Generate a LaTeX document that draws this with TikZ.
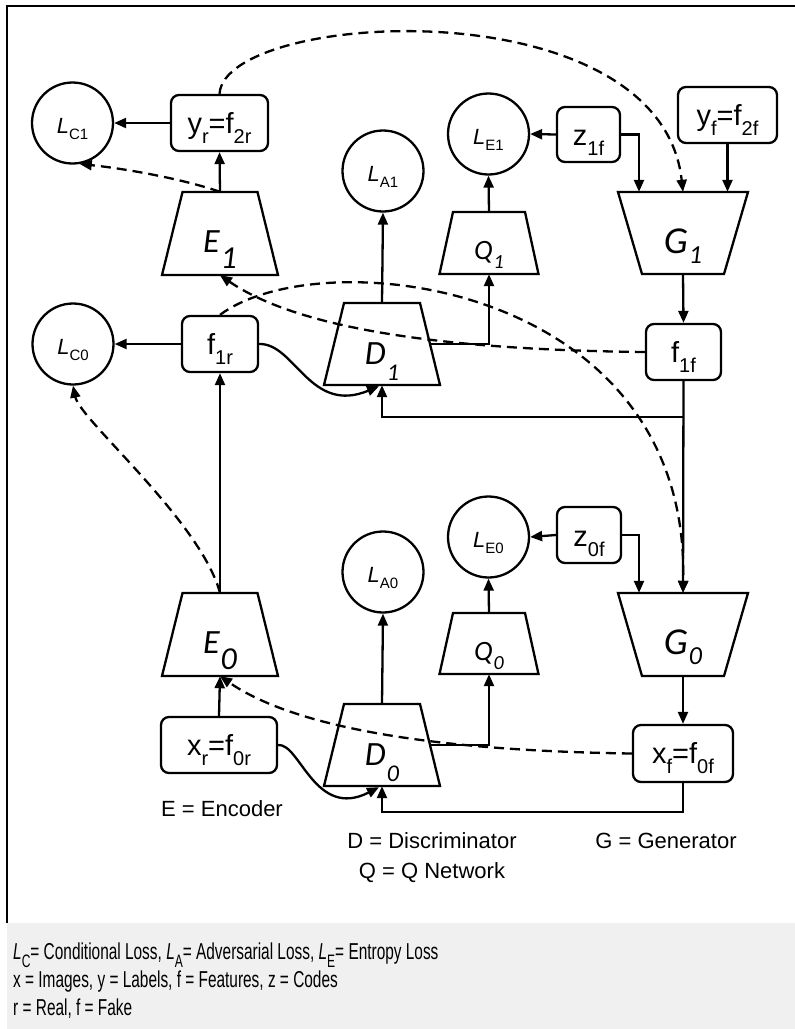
\documentclass[tikz,border=0pt]{standalone}
\usepackage{fontspec}
\setmainfont{Liberation Sans}
\newfontfamily\carl{Carlito}
\newfontfamily\narrowf[FakeStretch=0.67]{Liberation Sans}
\usetikzlibrary{arrows.meta,calc}
\definecolor{legbg}{RGB}{240,240,240}
\newcommand{\trap}[6]{%
  \draw[ln] (#2-#5,#3) -- (#2+#5,#3) -- (#2+#6,#4) -- (#2-#6,#4) -- cycle;
  \node[anch,minimum width=116pt,minimum height={(#4-#3)*1pt}] (#1) at (#2,{(#3+#4)/2}) {};}
\newcommand{\tlab}[5]{{\carl\itshape\fontsize{#1}{#1}\selectfont #2}\kern1pt\raisebox{-#4pt}{\carl\itshape\fontsize{#3}{#3}\selectfont #5}}
\newcommand{\Lc}[1]{{\fontsize{22}{22}\selectfont\itshape L}\raisebox{-6pt}{\fontsize{15}{15}\selectfont #1}}
\newcommand{\bmain}[1]{{\fontsize{29}{29}\selectfont #1}}
\newcommand{\bsub}[1]{\raisebox{-10pt}{\fontsize{20}{20}\selectfont #1}}
\newcommand{\lsub}[1]{\raisebox{-8pt}{\fontsize{18}{18}\selectfont #1}}
\begin{document}
\begin{tikzpicture}[x=1pt,y=-1pt,
  ln/.style={line width=2.3pt},
  arr/.style={ln,-{Triangle[length=12pt,width=10pt]}},
  darr/.style={arr,dash pattern=on 10pt off 6pt},
  bx/.style={draw,ln,rounded corners=8pt,inner sep=0pt},
  cir/.style={draw,ln,circle,minimum size=81pt,inner sep=0pt},
  anch/.style={inner sep=0pt,draw=none},
  lab/.style={inner sep=0pt,anchor=base},
  txt/.style={inner sep=0pt,anchor=base,font=\fontsize{22}{22}\selectfont},
  leg/.style={inner sep=0pt,anchor=base west,font=\narrowf\fontsize{23}{23}\selectfont}]
\useasboundingbox (0,0) rectangle (795,1029);
\fill[legbg] (7,923) rectangle (795,1029);
\draw[ln] (7,923) -- (7,6) -- (795,6);

% circles
\node[cir] (LC1) at (72.5,123) {};
\node[cir] (LA1) at (383,171) {};
\node[cir] (LE1) at (488.5,134) {};
\node[cir] (LC0) at (73,344) {};
\node[cir] (LA0) at (383,572) {};
\node[cir] (LE0) at (488.5,537) {};
\node[lab] (LC1t) at ($(LC1)+(0,10)$) {\Lc{C1}};
\node[lab] (LA1t) at ($(LA1)+(0,10)$) {\Lc{A1}};
\node[lab] (LE1t) at ($(LE1)+(0,10)$) {\Lc{E1}};
\node[lab] (LC0t) at ($(LC0)+(0,10)$) {\Lc{C0}};
\node[lab] (LA0t) at ($(LA0)+(0,10)$) {\Lc{A0}};
\node[lab] (LE0t) at ($(LE0)+(0,10)$) {\Lc{E0}};

% boxes
\node[bx,minimum width=97pt,minimum height=56pt] (yr) at (219.5,123) {};
\node[bx,minimum width=63pt,minimum height=55pt] (z1f) at (588.5,134.5) {};
\node[bx,minimum width=99pt,minimum height=56pt] (yf) at (727.5,115) {};
\node[bx,minimum width=76pt,minimum height=56pt] (f1r) at (220,344) {};
\node[bx,minimum width=75pt,minimum height=56pt] (f1f) at (683.5,352) {};
\node[bx,minimum width=64pt,minimum height=56pt] (z0f) at (589,535) {};
\node[bx,minimum width=116pt,minimum height=56pt] (xr) at (219,745) {};
\node[bx,minimum width=100pt,minimum height=57pt] (xf) at (683,753.5) {};
\node[lab] (yrt) at ($(yr)+(0,10)$) {\bmain{y\bsub{r}=f\bsub{2r}}};
\node[lab] (z1ft) at ($(z1f)+(0,11)$) {\bmain{z\bsub{1f}}};
\node[lab] (yft) at ($(yf)+(0,10)$) {\bmain{y\bsub{f}=f\bsub{2f}}};
\node[lab] (f1rt) at ($(f1r)+(0,10)$) {\bmain{f\bsub{1r}}};
\node[lab] (f1ft) at ($(f1f)+(0,10)$) {\bmain{f\bsub{1f}}};
\node[lab] (z0ft) at ($(z0f)+(0,11)$) {\bmain{z\bsub{0f}}};
\node[lab] (xrt) at ($(xr)+(0,10)$) {\bmain{x\bsub{r}=f\bsub{0r}}};
\node[lab] (xft) at ($(xf)+(0,10)$) {\bmain{x\bsub{f}=f\bsub{0f}}};

% trapezoids
\trap{E1}{220}{192}{275}{37.5}{58}
\trap{E0}{220}{593}{676}{37.5}{58}
\trap{D1}{382}{303}{385}{38}{58}
\trap{D0}{382}{704}{786}{38}{58}
\trap{Q1}{489}{212}{274}{36}{49.5}
\trap{Q0}{489}{613}{674}{36}{49.5}
\trap{G1}{683}{192}{274}{65}{41}
\trap{G0}{683}{593}{676}{65}{41}
\node[lab] (E1t) at (220,252) {\tlab{34}{E}{32}{16}{1}};
\node[lab] (E0t) at (220,653) {\tlab{34}{E}{32}{16}{0}};
\node[lab] (D1t) at (382,364) {\tlab{34}{D}{24}{16}{1}};
\node[lab] (D0t) at (382,765) {\tlab{34}{D}{24}{16}{0}};
\node[lab] (Q1t) at (489,259) {\tlab{28}{Q}{20}{9}{1}};
\node[lab] (Q0t) at (489,660) {\tlab{28}{Q}{20}{9}{0}};
\node[lab] (G1t) at (683,253) {\tlab{38}{G}{26}{10}{1}};
\node[lab] (G0t) at (683,654) {\tlab{38}{G}{26}{10}{0}};

% solid connectors, level 1
\draw[arr] (yr.west) -- (LC1.east);
\draw[arr] (E1.north) -- (yr.south);
\draw[arr] (z1f.west) -- (LE1.east);
\draw[arr] (z1f.east) -| ($(G1.north)+(-44,0)$);
\draw[arr] (yf.south) -- (yf.south |- G1.north);
\draw[arr] (Q1.north) -- (LE1.south);
\draw[arr] (D1.north) -- (LA1.south);
\draw[arr] ($(D1.center)+(47.5,0)$) -| (Q1.south);
\draw[arr] (G1.south) -- (f1f.north);
\draw[arr] (f1f.south) -- (G0.north);
\coordinate (j1) at (683,417);
\draw[arr] (j1) -| (D1.south);
\draw[arr] (f1r.west) -- (LC0.east);
\draw[arr] (E0.north) -- (f1r.south);
\draw[arr] (f1r.east) .. controls (295,343) and (310,415) .. ($(D1.south)+(-3,1)$);

% solid connectors, level 0
\draw[arr] (z0f.west) -- (LE0.east);
\draw[arr] (z0f.east) -| ($(G0.north)+(-44,0)$);
\draw[arr] (Q0.north) -- (LE0.south);
\draw[arr] (D0.north) -- (LA0.south);
\draw[arr] ($(D0.center)+(47.5,0)$) -| (Q0.south);
\draw[arr] (G0.south) -- (xf.north);
\coordinate (j0) at (382,812);
\draw[arr] (xf.south) |- (j0) -- (D0.south);
\draw[arr] (xr.north) -- (E0.south);
\draw[arr] (xr.east) .. controls (300,743) and (315,820) .. ($(D0.south)+(-3,1)$);

% dashed connectors
\draw[darr] (E1.north) .. controls (180,178) and (120,168) .. (LC1.-80);
\draw[darr] (yr.north) .. controls (225,10) and (660,-15) .. (G1.north);
\draw[darr] (f1f.west) .. controls (450,350) and (300,330) .. (E1.south);
\draw[darr] (f1r.north) .. controls (320,240) and (690,280) .. (G0.north);
\draw[darr] (E0.north) .. controls (200,520) and (80,420) .. (LC0.south);
\draw[darr] (xf.west) .. controls (450,751) and (300,731) .. (E0.south);

% texts
\node[txt] (tE) at (222,816) {E = Encoder};
\node[txt] (tD) at (432,848) {D = Discriminator};
\node[txt] (tQ) at (432,878) {Q = Q Network};
\node[txt] (tG) at (666,848) {G = Generator};
\node[leg] (l1) at (13,959) {\textit{L}\lsub{C}= Conditional Loss, \textit{L}\lsub{A}= Adversarial Loss, \textit{L}\lsub{E}= Entropy Loss};
\node[leg] (l2) at (13,987) {x = Images, y = Labels, f = Features, z = Codes};
\node[leg] (l3) at (13,1015) {r = Real, f = Fake};
\end{tikzpicture}
\end{document}
